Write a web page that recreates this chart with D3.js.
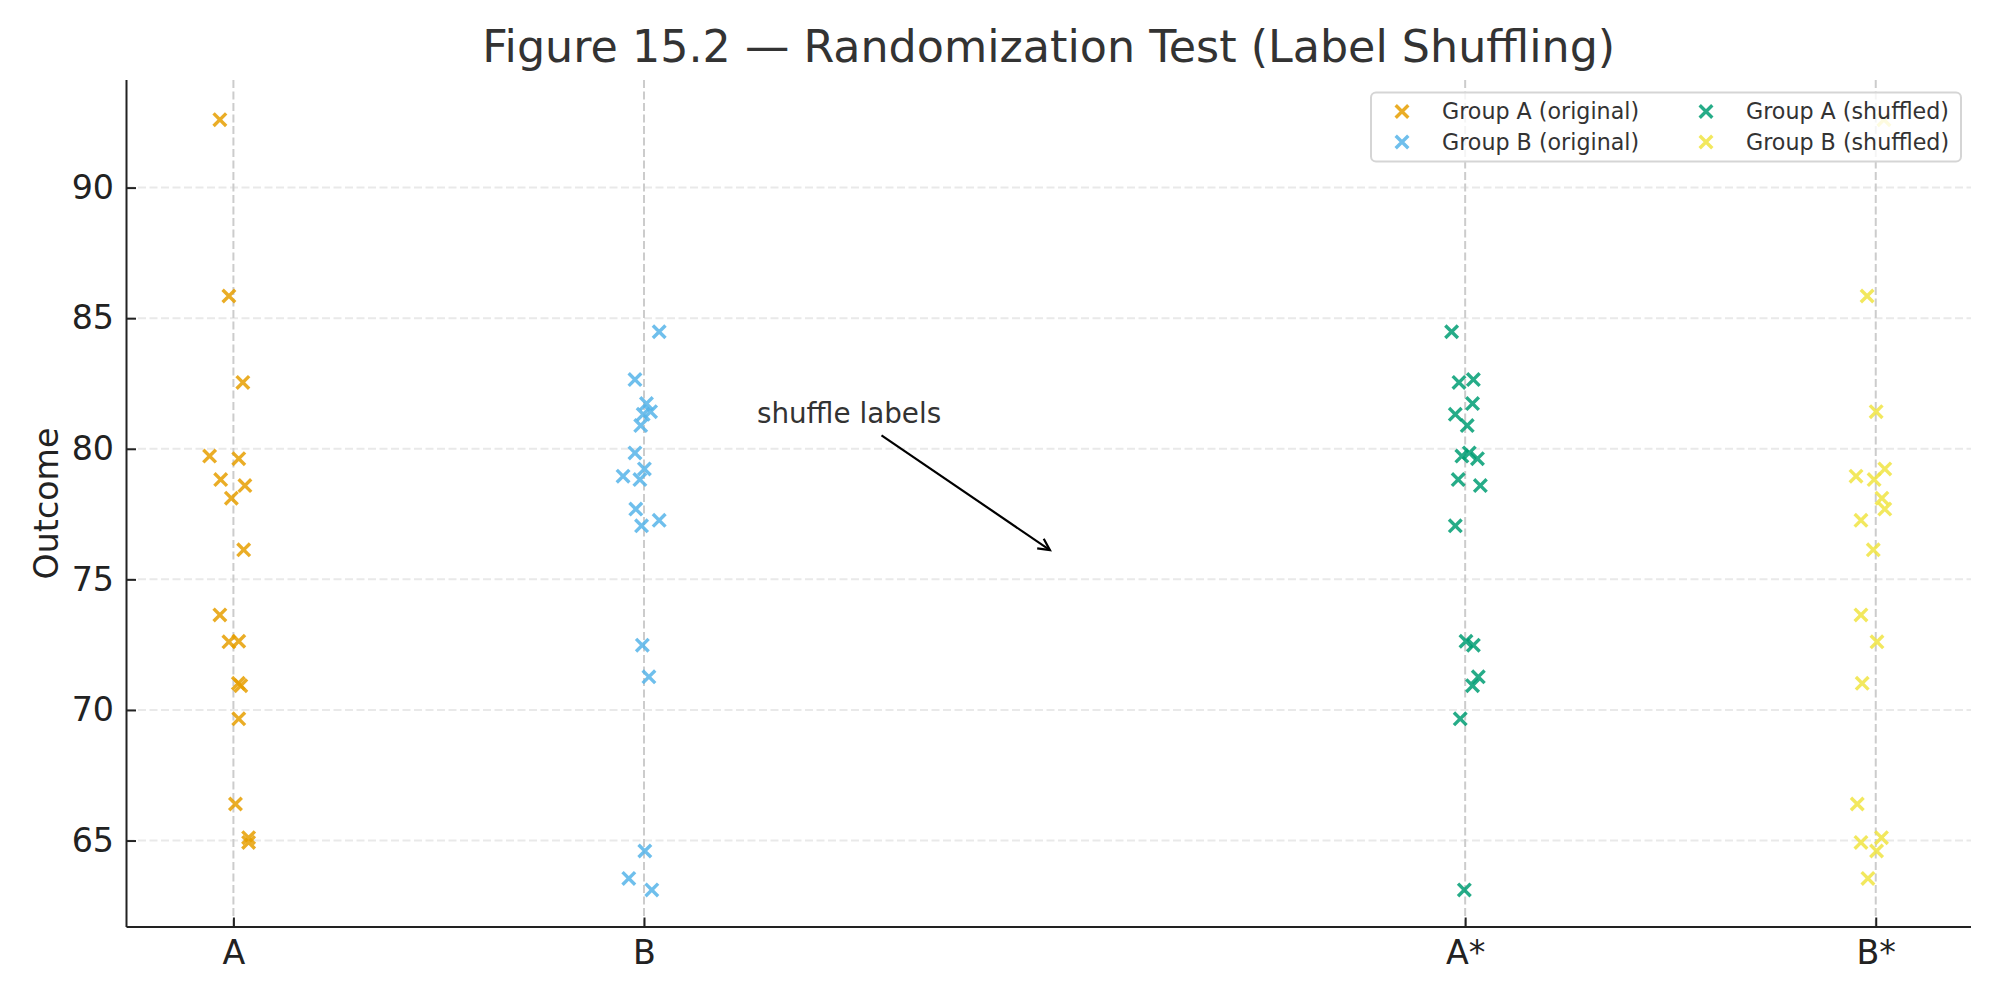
<!DOCTYPE html>
<html>
<head>
<meta charset="utf-8">
<script src="https://cdn.jsdelivr.net/npm/d3@7"></script>
<style>
  body { margin: 0; background: #ffffff; }
  svg text { font-family: "DejaVu Sans", sans-serif; }
</style>
</head>
<body>
<div class="chart"></div>
<script>

/* ********* Data ********* */

var categories = ["A", "B", "A*", "B*"];
var categoryPositions = [0, 1, 3, 4];
var yTicks = [65, 70, 75, 80, 85, 90];

var seriesNames = ["Group A (original)", "Group B (original)", "Group A (shuffled)", "Group B (shuffled)"];
var seriesCategory = [0, 1, 3, 4]; // x position each series sits on
var seriesColors = ["#E69F00", "#56B4E9", "#009E73", "#F0E442"];

// outcomes
var groupA_original = [92.60, 85.85, 82.54, 79.72, 79.62, 78.82, 78.59, 78.11, 76.13, 73.64, 72.61, 72.63, 71.02, 70.93, 69.66, 66.40, 65.11, 64.93];
var groupB_original = [84.48, 82.65, 81.73, 81.42, 81.32, 80.89, 79.84, 79.23, 78.95, 78.82, 77.69, 77.26, 77.05, 72.48, 71.27, 64.60, 63.55, 63.11];
var groupA_shuffled = [84.48, 82.54, 82.65, 81.73, 81.32, 80.89, 79.72, 79.84, 79.62, 78.82, 78.59, 77.05, 72.63, 72.48, 71.27, 70.93, 69.66, 63.11];
var groupB_shuffled = [92.60, 85.85, 81.42, 78.95, 78.82, 79.23, 78.11, 77.69, 77.26, 76.13, 73.64, 72.61, 71.02, 66.40, 64.93, 65.11, 64.60, 63.55];

// horizontal jitter of each point (in category units)
var jitterA_original = [-0.033, -0.011, 0.023, -0.058, 0.013, -0.031, 0.028, -0.005, 0.025, -0.033, -0.011, 0.013, 0.012, 0.018, 0.013, 0.005, 0.037, 0.037];
var jitterB_original = [0.037, -0.022, 0.006, 0.016, -0.002, -0.008, -0.022, 0.001, -0.051, -0.010, -0.020, 0.037, -0.006, -0.004, 0.012, 0.002, -0.037, 0.019];
var jitterA_shuffled = [-0.033, -0.015, 0.020, 0.018, -0.024, 0.005, -0.008, 0.010, 0.030, -0.017, 0.037, -0.024, 0.002, 0.020, 0.032, 0.018, -0.012, -0.002];
var jitterB_shuffled = [0.020, -0.021, 0.001, -0.048, -0.004, 0.022, 0.015, 0.022, -0.036, -0.006, -0.036, 0.003, -0.033, -0.045, -0.036, 0.014, 0.002, -0.019];

// annotation: text anchor and arrow target, in data units
var annotationText = "shuffle labels";
var annotationFrom = [1.275, 81.0];
var annotationTo = [2.0, 76.0];

/* ********* Layout ********* */

var W = 2000, H = 1000;
var margin = {top: 80, right: 29, bottom: 73, left: 126.5},
    width = W - margin.left - margin.right,
    height = H - margin.top - margin.bottom;

var svg = d3.select(".chart")
    .append("svg")
    .attr("width", W)
    .attr("height", H);

var g = svg.append("g")
    .attr("transform", "translate(" + margin.left + "," + margin.top + ")");

var x = d3.scaleLinear()
    .domain([-0.2604, 4.232])
    .range([0, width]);

var y = d3.scaleLinear()
    .domain([61.69, 94.12])
    .range([height, 0]);

/* grid */

g.append("g")
    .selectAll("line")
    .data(yTicks)
    .join("line")
    .attr("x1", 0)
    .attr("x2", width)
    .attr("y1", d => y(d))
    .attr("y2", d => y(d))
    .style("stroke", "#e9e9e9")
    .style("stroke-width", 2)
    .style("stroke-dasharray", "8,3.5");

g.append("g")
    .selectAll("line")
    .data(categoryPositions)
    .join("line")
    .attr("x1", d => x(d))
    .attr("x2", d => x(d))
    .attr("y1", 0)
    .attr("y2", height)
    .style("stroke", "#cccccc")
    .style("stroke-width", 2)
    .style("stroke-dasharray", "8,3.5");

/* axes */

var xAxis = g.append("g")
    .attr("transform", "translate(0," + height + ")")
    .call(d3.axisBottom(x)
        .tickValues(categoryPositions)
        .tickFormat((d, i) => categories[i])
        .tickSizeInner(-9.5)
        .tickSizeOuter(0)
        .tickPadding(13));

var yAxis = g.append("g")
    .call(d3.axisLeft(y)
        .tickValues(yTicks)
        .tickSizeInner(-9.5)
        .tickSizeOuter(0)
        .tickPadding(12.5));

[xAxis, yAxis].forEach(function(ax) {
    ax.select(".domain")
        .style("stroke", "#222222")
        .style("stroke-width", 2);
    ax.selectAll(".tick line")
        .style("stroke", "#222222")
        .style("stroke-width", 2);
    ax.selectAll(".tick text")
        .style("font-family", "DejaVu Sans")
        .style("font-size", "33.3px")
        .style("fill", "#222222");
});

// spines span the whole plot area
yAxis.select(".domain").attr("d", "M0," + height + "V0");
xAxis.select(".domain").attr("d", "M0,0H" + width);

/* axis label & title */

svg.append("text")
    .attr("transform", "translate(58," + (margin.top + height / 2) + ") rotate(-90)")
    .style("text-anchor", "middle")
    .style("font-size", "33.3px")
    .style("fill", "#222222")
    .text("Outcome");

svg.append("text")
    .attr("x", margin.left + width / 2)
    .attr("y", 62)
    .style("text-anchor", "middle")
    .style("font-size", "44.4px")
    .style("fill", "#333333")
    .text("Figure 15.2 \u2014 Randomization Test (Label Shuffling)");

/* points */

var allValues = [groupA_original, groupB_original, groupA_shuffled, groupB_shuffled];
var allJitter = [jitterA_original, jitterB_original, jitterA_shuffled, jitterB_shuffled];

var r = 6.3;
var crossPath = "M" + (-r) + "," + (-r) + "L" + r + "," + r + "M" + (-r) + "," + r + "L" + r + "," + (-r);

allValues.forEach(function(values, s) {
    g.append("g")
        .selectAll("path")
        .data(values)
        .join("path")
        .attr("d", crossPath)
        .attr("transform", (d, i) => "translate(" + x(seriesCategory[s] + allJitter[s][i]) + "," + y(d) + ")")
        .style("fill", "none")
        .style("stroke", seriesColors[s])
        .style("stroke-opacity", 0.85)
        .style("stroke-width", 3.4);
});

/* annotation */

var note = g.append("text")
    .attr("x", x(annotationFrom[0]))
    .attr("y", y(annotationFrom[1]))
    .style("font-size", "27.8px")
    .style("fill", "#333333")
    .text(annotationText);

var bBox = note.node().getBBox();
var cx = bBox.x + bBox.width / 2,
    cy = bBox.y + bBox.height / 2,
    tx = x(annotationTo[0]),
    ty = y(annotationTo[1]);

var dx = tx - cx, dy = ty - cy, len = Math.sqrt(dx * dx + dy * dy);
var ux = dx / len, uy = dy / len;

// start the arrow where it leaves the text box
var tEdge = Math.min(
    Math.abs((bBox.height / 2) / uy),
    Math.abs((bBox.width / 2) / ux)
);
var shrinkA = 10, shrinkB = 5.6;
var sx = cx + ux * (tEdge + shrinkA),
    sy = cy + uy * (tEdge + shrinkA),
    ex = tx - ux * shrinkB,
    ey = ty - uy * shrinkB;

g.append("line")
    .attr("x1", sx).attr("y1", sy)
    .attr("x2", ex).attr("y2", ey)
    .style("stroke", "#000000")
    .style("stroke-width", 2.2);

var headL = 11.5, headW = 5.8;
var bx = ex - ux * headL, by = ey - uy * headL;
g.append("path")
    .attr("d", "M" + (bx - uy * headW) + "," + (by + ux * headW) +
        "L" + ex + "," + ey +
        "L" + (bx + uy * headW) + "," + (by - ux * headW))
    .style("fill", "none")
    .style("stroke", "#000000")
    .style("stroke-width", 2.2);

/* legend */

var legend = svg.append("g")
    .attr("class", "legend");

legend.append("rect")
    .attr("x", 1371)
    .attr("y", 92.5)
    .attr("width", 590)
    .attr("height", 69)
    .attr("rx", 5)
    .style("fill", "#ffffff")
    .style("fill-opacity", 0.8)
    .style("stroke", "#d5d5d5")
    .style("stroke-width", 2);

var legendCols = [1402, 1706];
var legendRows = [111.5, 142];

seriesNames.forEach(function(name, i) {
    var col = Math.floor(i / 2), row = i % 2;
    legend.append("path")
        .attr("d", crossPath)
        .attr("transform", "translate(" + legendCols[col] + "," + legendRows[row] + ")")
        .style("fill", "none")
        .style("stroke", seriesColors[i])
        .style("stroke-opacity", 0.85)
        .style("stroke-width", 3.4);
    legend.append("text")
        .attr("x", legendCols[col] + 40)
        .attr("y", legendRows[row])
        .attr("dy", "0.36em")
        .style("font-size", "22.2px")
        .style("fill", "#333333")
        .text(name);
});

</script>
</body>
</html>
